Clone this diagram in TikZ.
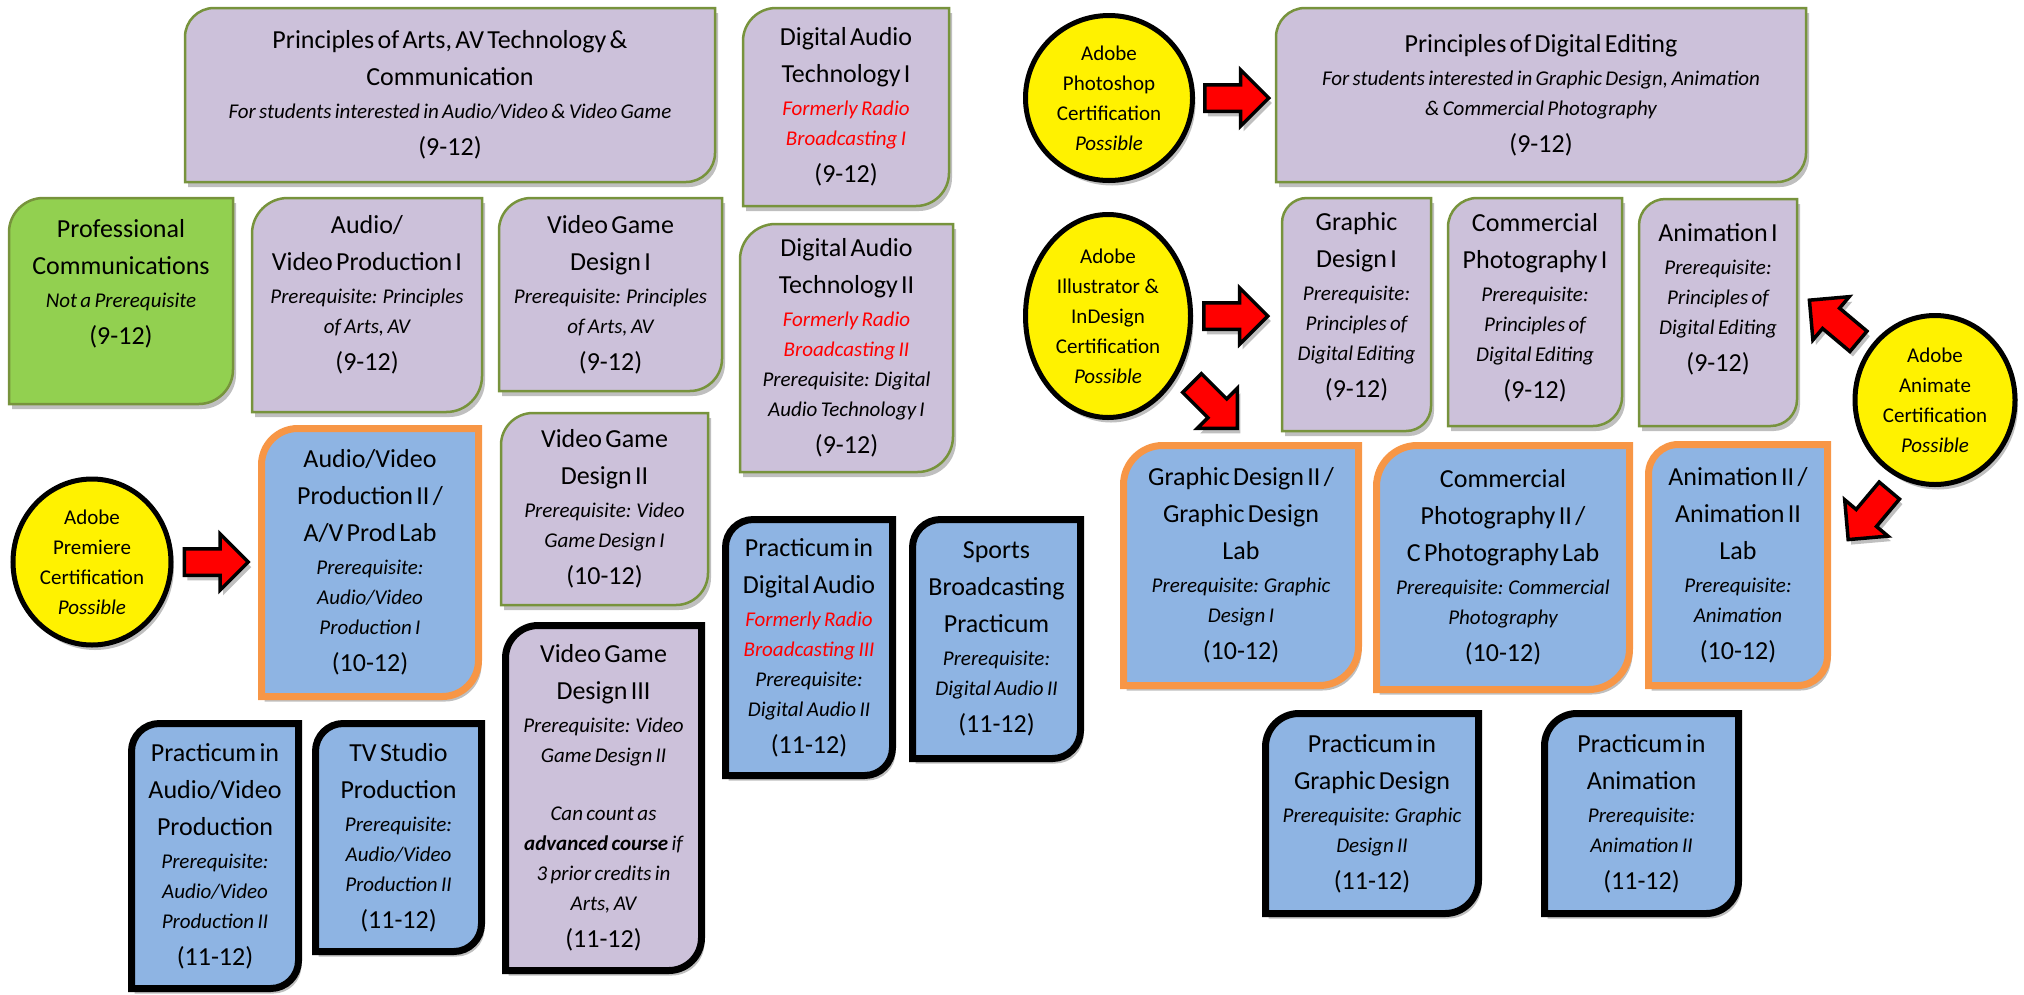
\documentclass[tikz,border=0pt]{standalone}
\usepackage{fontspec}
\setmainfont{Carlito}
\usetikzlibrary{shapes.geometric, shapes.arrows, positioning, calc, backgrounds, shadows}

\definecolor{lavfill}{RGB}{204,193,218}
\definecolor{bluefill}{RGB}{142,180,227}
\definecolor{greenfill}{RGB}{146,208,80}
\definecolor{boxolive}{RGB}{119,147,60}
\definecolor{orangeline}{RGB}{247,150,70}

% text lines inside the course boxes
\newcommand{\ctitle}[1]{{\fontsize{26}{37}\selectfont #1\par}\vspace{3pt}}
\newcommand{\cnote}[1]{{\fontsize{21}{30}\selectfont\itshape #1\par}}
\newcommand{\cformer}[1]{{\color{red}\fontsize{21}{30}\selectfont\itshape #1\par}}
\newcommand{\cyears}[1]{{\fontsize{26}{37}\selectfont #1\par}}
\newcommand{\cgap}[1]{\vskip #1pt\hrule height 0pt}

\begin{document}
\begin{tikzpicture}[x=1pt, y=-1pt,
    course/.style 2 args={anchor=north west, minimum width=#1pt, text width=#1pt,
        minimum height=#2pt, inner sep=0pt, outer sep=0pt, align=center},
    boxshadow/.style={drop shadow={shadow xshift=3pt, shadow yshift=-5pt, opacity=0.25, fill=black}},
    lavbox/.style={fill=lavfill, draw=boxolive, line width=2.5pt, boxshadow},
    greenbox/.style={fill=greenfill, draw=boxolive, line width=2.5pt, boxshadow},
    labbox/.style={fill=bluefill, draw=orangeline, line width=7pt, boxshadow},
    pracbox/.style={fill=bluefill, draw=black, line width=7pt, boxshadow},
    advbox/.style={fill=lavfill, draw=black, line width=7pt, boxshadow},
    certif/.style={ellipse, draw=black, fill=yellow, line width=5pt, inner sep=0pt,
        align=center, font=\fontsize{21}{30}\selectfont, boxshadow},
    redarrow/.style={single arrow, draw=black, fill=red, line width=3.5pt, inner sep=0pt,
        text height=12pt, text depth=11pt, minimum height=64pt,
        single arrow head extend=15pt, boxshadow}]

    \useasboundingbox (0,0) rectangle (2024,994);

    % Arts, AV technology side
    \node[course={530}{174}] (prinarts) at (185,8) {\ctitle{Principles of Arts, AV Technology \&\\Communication}\cnote{For students interested in Audio/Video \& Video Game}\cyears{(9-12)}};
    \node[course={206}{198}] (dat1) at (743,8) {\ctitle{Digital Audio\\Technology I}\cformer{Formerly Radio\\Broadcasting I}\cyears{(9-12)}};
    \node[course={224}{206}] (profcomm) at (9,198) {\ctitle{Professional\\Communications}\cnote{Not a Prerequisite}\cyears{(9-12)}\cgap{34}};
    \node[course={230}{214}] (avp1) at (252,198) {\ctitle{Audio/\\Video Production I}\cnote{Prerequisite: Principles\\of Arts, AV}\cyears{(9-12)}\cgap{20}};
    \node[course={223}{193}] (vgd1) at (499,198) {\ctitle{Video Game\\Design I}\cnote{Prerequisite: Principles\\of Arts, AV}\cyears{(9-12)}};
    \node[course={213}{248}] (dat2) at (740,224) {\ctitle{Digital Audio\\Technology II}\cformer{Formerly Radio\\Broadcasting II}\cnote{Prerequisite: Digital\\Audio Technology I}\cyears{(9-12)}};
    \node[course={217}{268}] (avp2) at (261.5,428.5) {\ctitle{Audio/Video\\Production II /\\A/V Prod Lab}\cnote{Prerequisite:\\Audio/Video\\Production I}\cyears{(10-12)}};
    \node[course={207}{192}] (vgd2) at (501,413) {\ctitle{Video Game\\Design II}\cnote{Prerequisite: Video\\Game Design I}\cyears{(10-12)}};
    \node[course={196}{345}] (vgd3) at (505.5,625.5) {\ctitle{Video Game\\Design III}\cnote{Prerequisite: Video\\Game Design II\\[28pt]Can count as\\\textbf{advanced course} if\\3 prior credits in\\Arts, AV}\cyears{(11-12)}};
    \node[course={167}{256}] (pracda) at (725.5,519.5) {\ctitle{Practicum in\\Digital Audio}\cformer{Formerly Radio\\Broadcasting III}\cnote{Prerequisite:\\Digital Audio II}\cyears{(11-12)}};
    \node[course={168}{239}] (sports) at (912.5,519.5) {\ctitle{Sports\\Broadcasting\\Practicum}\cnote{Prerequisite:\\Digital Audio II}\cyears{(11-12)}};
    \node[course={167}{265}] (pracavp) at (131.5,723.5) {\ctitle{Practicum in\\Audio/Video\\Production}\cnote{Prerequisite:\\Audio/Video\\Production II}\cyears{(11-12)}};
    \node[course={166}{228}] (tvstudio) at (315.5,723.5) {\ctitle{TV Studio\\Production}\cnote{Prerequisite:\\Audio/Video\\Production II}\cyears{(11-12)}};

    % Digital editing side
    \node[course={530}{174}] (prinde) at (1276,8) {\ctitle{Principles of Digital Editing}\cnote{For students interested in Graphic Design, Animation\\\& Commercial Photography}\cyears{(9-12)}};
    \node[course={149}{233}] (gd1) at (1282,198) {\ctitle{Graphic\\Design I}\cnote{Prerequisite:\\Principles of\\Digital Editing}\cyears{(9-12)}\cgap{16}};
    \node[course={174}{228}] (cp1) at (1448,198) {\ctitle{Commercial\\Photography I}\cnote{Prerequisite:\\Principles of\\Digital Editing}\cyears{(9-12)}\cgap{8}};
    \node[course={158}{227}] (anim1) at (1639,199) {\ctitle{Animation I}\cnote{Prerequisite:\\Principles of\\Digital Editing}\cyears{(9-12)}\cgap{26}};
    \node[course={235}{240}] (gd2) at (1123.5,445.5) {\ctitle{Graphic Design II /\\Graphic Design\\Lab}\cnote{Prerequisite: Graphic\\Design I}\cyears{(10-12)}};
    \node[course={253}{244}] (cp2) at (1376.5,445.5) {\ctitle{Commercial\\Photography II /\\C Photography Lab}\cnote{Prerequisite: Commercial\\Photography}\cyears{(10-12)}};
    \node[course={179}{241}] (anim2) at (1648.5,444.5) {\ctitle{Animation II /\\Animation II\\Lab}\cnote{Prerequisite:\\Animation}\cyears{(10-12)}};
    \node[course={213}{200}] (pracgd) at (1265.5,713.5) {\ctitle{Practicum in\\Graphic Design}\cnote{Prerequisite: Graphic\\Design II}\cyears{(11-12)}};
    \node[course={194}{200}] (pracanim) at (1544.5,713.5) {\ctitle{Practicum in\\Animation}\cnote{Prerequisite:\\Animation II}\cyears{(11-12)}};

    % Certifications
    \node[certif, minimum width=158pt, minimum height=166pt] (premiere) at (92,562) {Adobe\\Premiere\\Certification\\\textit{Possible}};
    \node[certif, minimum width=167pt, minimum height=165pt] (photoshop) at (1109,98) {Adobe\\Photoshop\\Certification\\\textit{Possible}};
    \node[certif, minimum width=165pt, minimum height=203pt] (illustrator) at (1108,316) {Adobe\\Illustrator \&\\InDesign\\Certification\\\textit{Possible}};
    \node[certif, minimum width=160pt, minimum height=169pt] (animate) at (1935,400) {Adobe\\Animate\\Certification\\\textit{Possible}};

    % Block arrows
    \node[redarrow, right=9pt of premiere] (premtoavp) {};
    \node[redarrow, right=8pt of photoshop] (pstoprinde) {};
    \node[redarrow, right=9pt of illustrator] (iltogd1) {};
    \node[redarrow, rotate=-45] (iltogd2) at (1210,401) {};
    \node[redarrow, rotate=140] (antoanim1) at (1839,325) {};
    \node[redarrow, rotate=-130] (antoanim2) at (1873,510) {};

    % Box outlines, round top left and bottom right corners
    \begin{scope}[on background layer]
        \foreach \nm/\sty in {prinarts/lavbox, dat1/lavbox, profcomm/greenbox, avp1/lavbox, vgd1/lavbox,
                dat2/lavbox, avp2/labbox, vgd2/lavbox, vgd3/advbox, pracda/pracbox, sports/pracbox,
                pracavp/pracbox, tvstudio/pracbox, prinde/lavbox, gd1/lavbox, cp1/lavbox, anim1/lavbox,
                gd2/labbox, cp2/labbox, anim2/labbox, pracgd/pracbox, pracanim/pracbox}
            \path[\sty] let \p1=(\nm.north west), \p2=(\nm.south east),
                    \n1={0.1667*min(\x2-\x1,\y1-\y2)} in
                (\x1,{\y1-\n1}) .. controls (\x1,{\y1-0.45*\n1}) and ({\x1+0.45*\n1},\y1) .. ({\x1+\n1},\y1)
                -- (\x2,\y1) -- (\x2,{\y2+\n1})
                .. controls (\x2,{\y2+0.45*\n1}) and ({\x2-0.45*\n1},\y2) .. ({\x2-\n1},\y2)
                -- (\x1,\y2) -- cycle;
    \end{scope}
\end{tikzpicture}
\end{document}
